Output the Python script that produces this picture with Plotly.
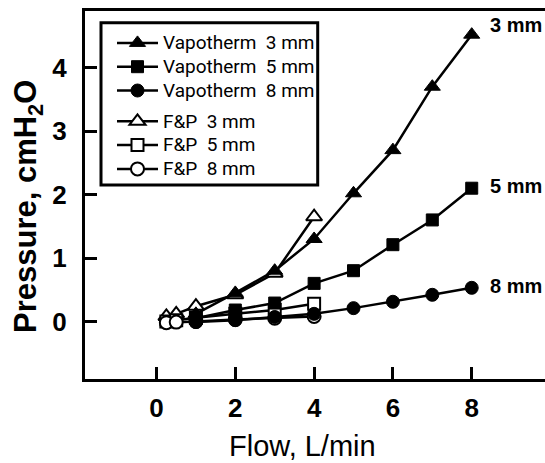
import plotly.graph_objects as go

# ---- data ----
vap_flow = [1, 2, 3, 4, 5, 6, 7, 8]
vap_3mm = [0.12, 0.45, 0.80, 1.30, 2.02, 2.70, 3.70, 4.52]
vap_5mm = [0.05, 0.18, 0.29, 0.60, 0.80, 1.21, 1.60, 2.10]
vap_8mm = [-0.01, 0.02, 0.07, 0.12, 0.21, 0.31, 0.42, 0.53]

fp_flow = [0.25, 0.5, 1, 2, 3, 4]
fp_3mm = [0.08, 0.12, 0.24, 0.42, 0.76, 1.65]
fp_5mm = [0.0, 0.02, 0.06, 0.12, 0.18, 0.28]
fp_8mm = [-0.02, -0.01, 0.0, 0.03, 0.05, 0.08]

x_ticks = [0, 2, 4, 6, 8]
y_ticks = [0, 1, 2, 3, 4]
end_labels = ["3 mm", "5 mm", "8 mm"]

FONT = "Liberation Sans, Arial, sans-serif"
LEGFONT = "Roboto, Liberation Sans, sans-serif"
W, H = 545, 463
ML, MR, MT, MB = 85, 0, 11, 84
PW, PH = W - ML - MR, H - MT - MB


def px_x(v):
    return (v - ML) / PW


def px_y(v):
    return 1 - (v - MT) / PH


def legname(s):
    return '<span style="font-size:19px">' + s + '</span>'


fig = go.Figure()

fp_series = [("F&P\u00a0 3 mm", fp_3mm, "triangle-up", 14),
             ("F&P\u00a0 5 mm", fp_5mm, "square", 12),
             ("F&P\u00a0 8 mm", fp_8mm, "circle", 13)]
vap_series = [("Vapotherm\u00a0 3 mm", vap_3mm, "triangle-up", 14),
              ("Vapotherm\u00a0 5 mm", vap_5mm, "square", 12),
              ("Vapotherm\u00a0 8 mm", vap_8mm, "circle", 13)]

for i, (name, ys, sym, sz) in enumerate(fp_series):
    fig.add_trace(go.Scatter(
        x=fp_flow, y=ys, name=legname(name), mode="lines+markers",
        line=dict(color="black", width=2.5),
        marker=dict(symbol=sym, size=sz, color="white",
                    line=dict(color="black", width=2)),
        legendgroup="fp", legendrank=10 + i))

for i, (name, ys, sym, sz) in enumerate(vap_series):
    fig.add_trace(go.Scatter(
        x=vap_flow, y=ys, name=legname(name), mode="lines+markers",
        line=dict(color="black", width=2.5),
        marker=dict(symbol=sym, size=sz, color="black",
                    line=dict(color="black", width=1)),
        legendgroup="vap", legendrank=1 + i))

# end labels next to the last Vapotherm points
for lab, ys in zip(end_labels, [vap_3mm, vap_5mm, vap_8mm]):
    fig.add_annotation(x=vap_flow[-1], y=ys[-1], text=lab, showarrow=False,
                       xanchor="left", yanchor="middle", xshift=16,
                       yshift=10 if lab == "3 mm" else 2,
                       font=dict(family=FONT, size=20, color="black", weight="bold"))

axis_common = dict(showgrid=False, zeroline=False, showline=True, linecolor="black",
                   linewidth=3, ticks="inside", ticklen=12, tickwidth=3,
                   tickcolor="black",
                   tickfont=dict(family=FONT, size=26, color="black", weight="bold"))

fig.update_xaxes(range=[-1.815, 9.86], tickvals=x_ticks, mirror=True,
                 ticklabelstandoff=4, **axis_common)
fig.update_yaxes(range=[-0.907, 4.893], tickvals=y_ticks, mirror=False,
                 ticklabelstandoff=10, **axis_common)

# axis titles
fig.add_annotation(xref="paper", yref="paper", x=px_x(302), y=px_y(446),
                   text="Flow, L/min", showarrow=False,
                   xanchor="center", yanchor="middle",
                   font=dict(family=FONT, size=29, color="black"))
fig.add_annotation(xref="paper", yref="paper", x=px_x(28), y=px_y(207),
                   text="Pressure, cmH<sub>2</sub>O", textangle=-90,
                   showarrow=False, xanchor="center", yanchor="middle",
                   font=dict(family=FONT, size=31, color="black", weight="bold"))

# legend frame
fig.add_shape(type="rect", xref="paper", yref="paper",
              x0=px_x(101), x1=px_x(317.7), y0=px_y(185), y1=px_y(22.7),
              line=dict(color="black", width=3), fillcolor="rgba(0,0,0,0)")

fig.update_layout(
    width=W, height=H, margin=dict(l=ML, r=MR, t=MT, b=MB),
    paper_bgcolor="white", plot_bgcolor="white",
    showlegend=True,
    legend=dict(x=px_x(112), y=px_y(26), xanchor="left", yanchor="top",
                bgcolor="rgba(0,0,0,0)", borderwidth=0, tracegroupgap=7,
                itemwidth=41,
                font=dict(family=LEGFONT, size=16, color="black")),
)

fig.write_html("out.html")
